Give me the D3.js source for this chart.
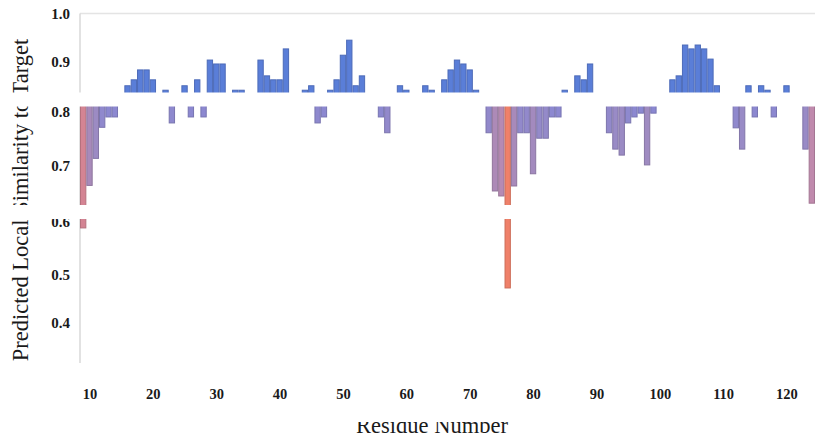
<!DOCTYPE html>
<html>
<head>
<meta charset="utf-8">
<script src="https://cdn.jsdelivr.net/npm/d3@7/dist/d3.min.js"></script>
<style>
  html, body { margin: 0; padding: 0; background: #fff; }
  svg { display: block; }
</style>
</head>
<body>
<svg id="chart" width="815" height="437"></svg>
<script>
// Residue numbers along the sequence
const residues = [
   9, 10, 11, 12, 13, 14, 15, 16, 17, 18, 19, 20, 21, 22, 23, 24, 25, 26, 27, 28,
  29, 30, 31, 32, 33, 34, 35, 36, 37, 38, 39, 40, 41, 42, 43, 44, 45, 46, 47, 48,
  49, 50, 51, 52, 53, 54, 55, 56, 57, 58, 59, 60, 61, 62, 63, 64, 65, 66, 67, 68,
  69, 70, 71, 72, 73, 74, 75, 76, 77, 78, 79, 80, 81, 82, 83, 84, 85, 86, 87, 88,
  89, 90, 91, 92, 93, 94, 95, 96, 97, 98, 99,100,101,102,103,104,105,106,107,108,
 109,110,111,112,113,114,115,116,117,118,119,120,121,122,123,124
];

// Predicted local similarity to target, one value per residue
const similarity = [
  0.588, 0.665, 0.714, 0.771, 0.790, 0.790, 0.830, 0.852, 0.864, 0.884, 0.884, 0.864, 0.830, 0.843, 0.779, 0.830, 0.852, 0.790, 0.864, 0.790,
  0.904, 0.896, 0.896, 0.830, 0.843, 0.843, 0.830, 0.830, 0.904, 0.872, 0.864, 0.864, 0.927, 0.830, 0.830, 0.843, 0.852, 0.779, 0.790, 0.843,
  0.864, 0.914, 0.945, 0.852, 0.872, 0.830, 0.830, 0.790, 0.761, 0.830, 0.852, 0.843, 0.830, 0.830, 0.852, 0.843, 0.830, 0.864, 0.884, 0.904,
  0.896, 0.884, 0.843, 0.830, 0.761, 0.655, 0.646, 0.473, 0.664, 0.761, 0.761, 0.686, 0.751, 0.751, 0.790, 0.790, 0.843, 0.830, 0.872, 0.864,
  0.896, 0.830, 0.830, 0.761, 0.731, 0.720, 0.779, 0.790, 0.797, 0.702, 0.797, 0.830, 0.830, 0.864, 0.872, 0.935, 0.927, 0.935, 0.927, 0.906,
  0.852, 0.830, 0.830, 0.770, 0.731, 0.852, 0.790, 0.852, 0.843, 0.790, 0.830, 0.852, 0.830, 0.830, 0.731, 0.633
];

// Reference level the bars diverge from
const baseline = 0.825;

const yTicks = [1.0, 0.9, 0.8, 0.7, 0.6, 0.5, 0.4];
const xTicks = [10, 20, 30, 40, 50, 60, 70, 80, 90, 100, 110, 120];

const xTitle = "Residue Number";
const yTitle = "Predicted Local Similarity to Target";

const serif = "'Liberation Serif', 'Times New Roman', serif";

const svg = d3.select("#chart");

const x = d3.scaleLinear().domain([8.5, 124.5]).range([80, 815]);
const y = d3.scaleLinear()
  .domain([1.0, 0.9, 0.8, 0.7, 0.6, 0.5, 0.4, 0.32])
  .range([13.5, 62, 111.5, 166, 221.5, 275, 323, 362]);

const step = x(1) - x(0);

// Colour of bars below the reference level, from lavender to salmon
const lowColor = d3.scaleLinear()
  .domain([0.47, 0.59, 0.635, 0.66, 0.72, 0.80])
  .range(["#f08068", "#d48494", "#bf8aae", "#a98ab9", "#9b8bc4", "#8a88d2"])
  .clamp(true);
const highColor = "#5a7ed8";

const data = residues.map((r, i) => ({ r, v: similarity[i] }));

// top grid line and left axis line
svg.append("line")
  .attr("x1", x.range()[0]).attr("x2", x.range()[1])
  .attr("y1", y(1.0)).attr("y2", y(1.0))
  .attr("stroke", "#e4e4e4").attr("stroke-width", 1.5);
svg.append("line")
  .attr("x1", x.range()[0]).attr("x2", x.range()[0])
  .attr("y1", y(1.0)).attr("y2", y(0.32) + 1)
  .attr("stroke", "#d8d8d8").attr("stroke-width", 1.5);

// bars
svg.append("g").selectAll("rect")
  .data(data)
  .join("rect")
  .attr("x", d => x(d.r) - step / 2 + 0.5)
  .attr("width", step - 1)
  .attr("y", d => y(Math.max(d.v, baseline)))
  .attr("height", d => Math.abs(y(d.v) - y(baseline)))
  .attr("fill", d => d.v >= baseline ? highColor : lowColor(d.v))
  .attr("stroke", d => d3.color(d.v >= baseline ? highColor : lowColor(d.v)).darker(0.45))
  .attr("stroke-width", 1);

// y axis labels
const yAxis = svg.append("g")
  .attr("transform", `translate(${x.range()[0]},0)`)
  .call(d3.axisLeft(y).tickValues(yTicks).tickFormat(d3.format(".1f")).tickSize(0).tickPadding(10));
yAxis.select(".domain").remove();
yAxis.selectAll("text")
  .style("font-family", serif)
  .style("font-size", "15px")
  .style("font-weight", "bold")
  .attr("fill", "#1a1a1a");

// x axis labels
const xAxis = svg.append("g")
  .attr("transform", "translate(0,379)")
  .call(d3.axisBottom(x).tickValues(xTicks).tickFormat(d3.format("d")).tickSize(0).tickPadding(10));
xAxis.select(".domain").remove();
xAxis.selectAll("text")
  .style("font-family", serif)
  .style("font-size", "14.5px")
  .style("font-weight", "bold")
  .attr("fill", "#1a1a1a");

// axis titles
svg.append("text")
  .attr("transform", "translate(28,200) rotate(-90)")
  .attr("text-anchor", "middle")
  .style("font-family", serif)
  .style("font-size", "22.5px")
  .attr("fill", "#1a1a1a")
  .text(yTitle);

svg.append("text")
  .attr("x", 432).attr("y", 433)
  .attr("text-anchor", "middle")
  .style("font-family", serif)
  .style("font-size", "22.5px")
  .attr("fill", "#1a1a1a")
  .text(xTitle);

// white horizontal strips laid across the figure
const strips = [[92.5, 106.5], [205, 219], [405, 422]];
svg.append("g").selectAll("rect")
  .data(strips)
  .join("rect")
  .attr("x", 0).attr("width", 815)
  .attr("y", d => d[0]).attr("height", d => d[1] - d[0])
  .attr("fill", "#fff");
</script>
</body>
</html>
